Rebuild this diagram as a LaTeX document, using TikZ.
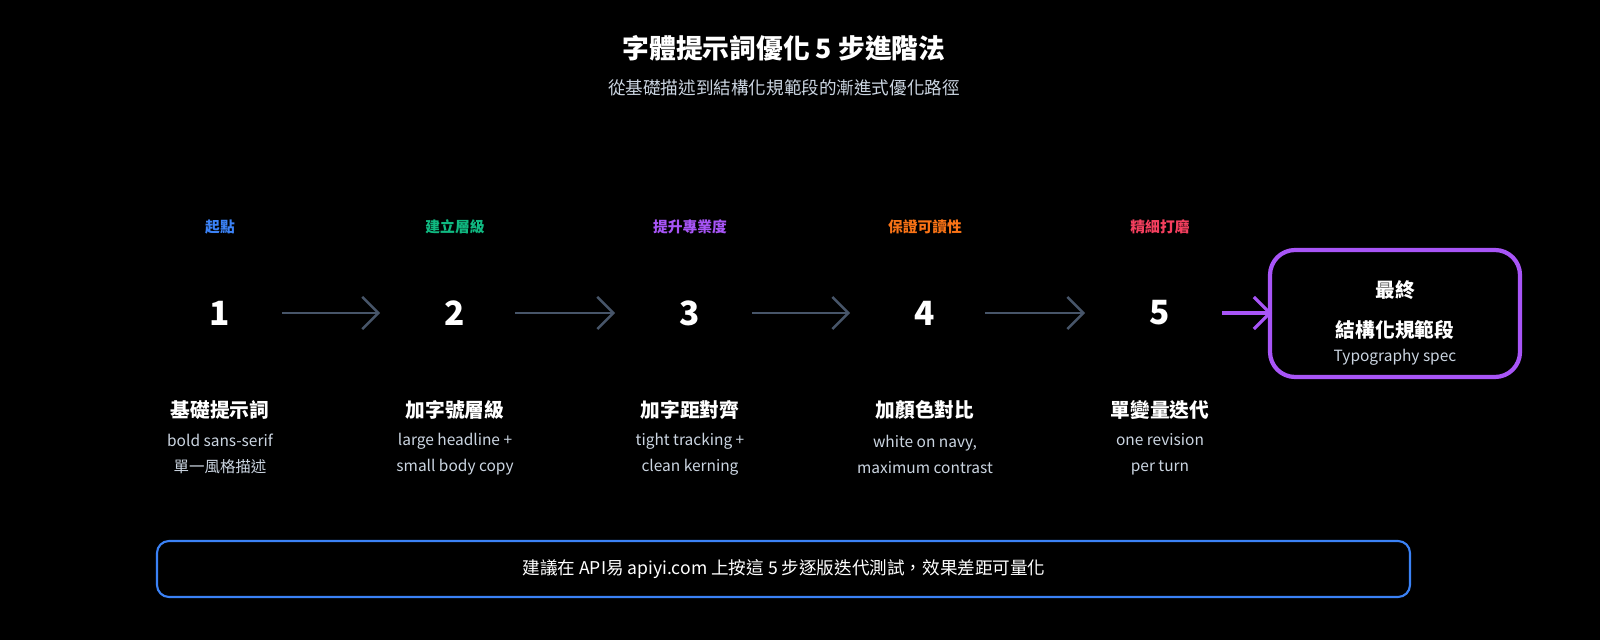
\documentclass[tikz,border=0pt]{standalone}
\usepackage{fontspec}
\setmainfont{Noto Sans CJK TC}
\usepackage{tikz}
\usetikzlibrary{arrows.meta}

\definecolor{bgblack}{HTML}{000000}
\definecolor{arrowgray}{HTML}{475569}
\definecolor{subgray}{HTML}{CBD5E1}
\definecolor{stepblue}{HTML}{3B82F6}
\definecolor{stepgreen}{HTML}{10B981}
\definecolor{steppurple}{HTML}{A855F7}
\definecolor{steporange}{HTML}{F97316}
\definecolor{stepred}{HTML}{F43F5E}

\tikzset{
    num/.style={text=white, font=\fontsize{9.5}{10}\selectfont\bfseries},
    tag/.style={font=\fontsize{4.2}{5}\selectfont\bfseries},
    head/.style={text=white, font=\fontsize{5.6}{7}\selectfont\bfseries},
    sub/.style={text=subgray, font=\fontsize{4.4}{7.4}\selectfont, align=center},
    flow/.style={-{Straight Barb[length=1.6mm, width=3.2mm]}, line width=0.7pt, color=arrowgray},
}

\begin{document}
\begin{tikzpicture}[x=0.01cm, y=-0.01cm]
        \useasboundingbox (0, 0) rectangle (1600, 640);
        \fill[bgblack] (0, 0) rectangle (1600, 640);

        \node[text=white, font=\fontsize{7.6}{9}\selectfont\bfseries] (title) at (784, 48)
            {字體提示詞優化 5 步進階法};
        \node[text=subgray, font=\fontsize{5}{6}\selectfont] (subtitle) at (784, 88)
            {從基礎描述到結構化規範段的漸進式優化路徑};

        \foreach \i/\x/\col/\tg/\hd/\la/\lb in {
            1/220/stepblue/起點/基礎提示詞/bold sans-serif/單一風格描述,
            2/455/stepgreen/建立層級/加字號層級/large headline +/small body copy,
            3/690/steppurple/提升專業度/加字距對齊/tight tracking +/clean kerning,
            4/925/steporange/保證可讀性/加顏色對比/{white on navy,}/maximum contrast,
            5/1160/stepred/精細打磨/單變量迭代/one revision/per turn} {
            \node[tag, text=\col] (tag\i) at (\x, 227) {\tg};
            \node[num] (step\i) at (\x, 313) {\i};
            \node[head] (head\i) at (\x, 410) {\hd};
            \node[sub] (sub\i) at (\x, 454) {\la\\\lb};
        }

        \foreach \a/\b/\s/\e in {1/2/282/380, 2/3/515/615, 3/4/752/850, 4/5/985/1085} {
            \coordinate (from\a) at (\s, 313);
            \coordinate (to\b) at (\e, 313);
            \draw[flow] (from\a) -- (to\b);
        }

        \draw[steppurple, line width=1.2pt, rounded corners=0.25cm] (1270, 250)
            rectangle (1520, 377);
        \node[text=white, font=\fontsize{5.6}{7}\selectfont\bfseries] (final) at (1395, 290) {最終};
        \node[text=white, font=\fontsize{5.6}{7}\selectfont\bfseries] (finalname) at (1395, 330)
            {結構化規範段};
        \node[text=subgray, font=\fontsize{4.4}{5}\selectfont] (finalspec) at (1395, 357)
            {Typography spec};
        \coordinate (fin) at (1272, 313);
        \coordinate (start) at (1222, 313);
        \draw[flow, steppurple, line width=0.9pt] (start) -- (fin);

        \draw[stepblue, line width=0.6pt, rounded corners=0.12cm] (157, 541)
            rectangle (1410, 597);
        \node[text=white, font=\fontsize{5}{6}\selectfont] (note) at (784, 569)
            {建議在 API易 apiyi.com 上按這 5 步逐版迭代測試，效果差距可量化};

    \end{tikzpicture}
\end{document}
